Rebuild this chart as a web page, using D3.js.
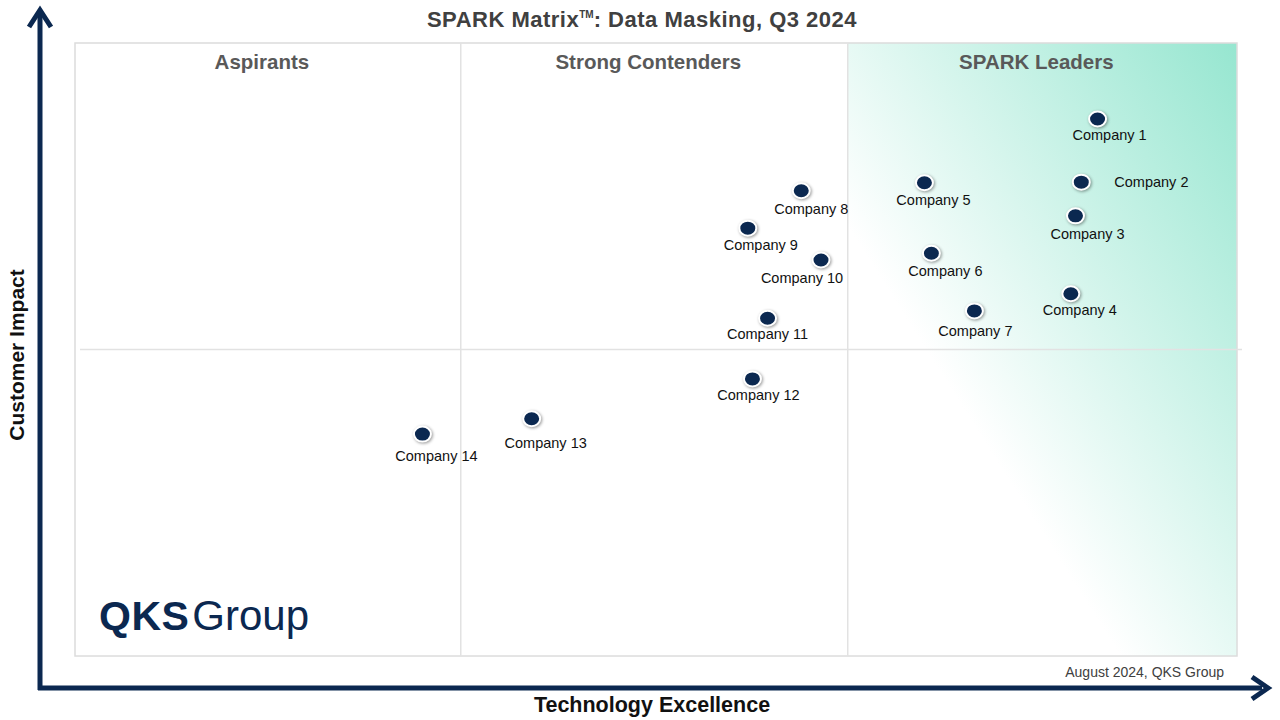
<!DOCTYPE html>
<html><head><meta charset="utf-8">
<script src="https://cdn.jsdelivr.net/npm/d3@7"></script>
<style>body{margin:0;background:#fff}svg{font-family:Arial,"Liberation Sans",sans-serif}</style>
</head><body><svg id="c" width="1280" height="720"></svg>
<script>
// vendor positions (0-100 both axes)
const companies = ["Company 1","Company 2","Company 3","Company 4","Company 5","Company 6","Company 7",
  "Company 8","Company 9","Company 10","Company 11","Company 12","Company 13","Company 14"];
const techExcellence = [88.0,86.6,86.1,85.7,73.1,73.7,77.4,62.5,57.9,64.2,59.6,58.3,39.3,29.9];
const customerImpact = [87.6,77.3,71.8,59.1,77.2,65.7,56.3,75.9,69.8,64.6,55.1,45.2,38.7,36.2];
const labelDx = [12,33,12,9,9,14,1,10,13,-19,0,6,14,14];
const labelDy = [21,5,23,21,22,23,25,23,22,23,21,21,29,27];
const quadrantNames = ["Aspirants","Strong Contenders","SPARK Leaders"];
const xSplits = [33.2, 66.5];
const ySplit = 50;

const svg = d3.select("#c");
const x = d3.scaleLinear().domain([0,100]).range([75,1237]);
const y = d3.scaleLinear().domain([0,100]).range([656,43]);
const navy = "#0b2850";

const defs = svg.append("defs");
const g = defs.append("linearGradient").attr("id","lead").attr("x1","1").attr("y1","0").attr("x2","0").attr("y2","1");
g.append("stop").attr("offset","0").attr("stop-color","#96e6d0");
g.append("stop").attr("offset","0.65").attr("stop-color","#ffffff");

// leaders shading
svg.append("rect").attr("x",x(xSplits[1])).attr("y",y(100))
  .attr("width",x(100)-x(xSplits[1])).attr("height",y(0)-y(100)).attr("fill","url(#lead)");

// frame + grid
svg.append("rect").attr("x",x(0)).attr("y",y(100)).attr("width",x(100)-x(0)).attr("height",y(0)-y(100))
  .attr("fill","none").attr("stroke","#dcdcdc").attr("stroke-width",1.5);
xSplits.forEach(s => svg.append("line").attr("x1",x(s)).attr("x2",x(s)).attr("y1",y(100)).attr("y2",y(0))
  .attr("stroke","#e2e2e2").attr("stroke-width",1.5));
svg.append("line").attr("x1",80).attr("x2",1242).attr("y1",y(ySplit)).attr("y2",y(ySplit))
  .attr("stroke","#e2e2e2").attr("stroke-width",1.5);

// quadrant titles
const bounds = [0, ...xSplits, 100];
quadrantNames.forEach((n,i) => svg.append("text").attr("x",(x(bounds[i])+x(bounds[i+1]))/2 - 6).attr("y",69)
  .attr("text-anchor","middle").attr("font-size",20.5).attr("font-weight","bold").attr("fill","#595959").text(n));

// title
const t = svg.append("text").attr("x",642).attr("y",27).attr("text-anchor","middle")
  .attr("font-size",22).attr("font-weight","bold").attr("fill","#404040").attr("letter-spacing",0.5);
t.append("tspan").text("SPARK Matrix");
t.append("tspan").attr("font-size",10).attr("dy",-9).attr("letter-spacing",0).text("TM");
t.append("tspan").attr("dy",9).text(": Data Masking, Q3 2024");

// axes arrows
svg.append("line").attr("x1",40).attr("x2",40).attr("y1",690).attr("y2",14).attr("stroke",navy).attr("stroke-width",5);
svg.append("path").attr("d","M29,27 L40,10 L51,27").attr("fill","none").attr("stroke",navy).attr("stroke-width",5);
svg.append("line").attr("x1",38).attr("x2",1262).attr("y1",688).attr("y2",688).attr("stroke",navy).attr("stroke-width",5);
svg.append("path").attr("d","M1252,677 L1268,688 L1252,699").attr("fill","none").attr("stroke",navy).attr("stroke-width",5);

svg.append("text").attr("x",652).attr("y",712).attr("text-anchor","middle").attr("font-size",21.5)
  .attr("font-weight","bold").attr("fill","#111").text("Technology Excellence");
svg.append("text").attr("transform","translate(24,355) rotate(-90)").attr("text-anchor","middle")
  .attr("font-size",21).attr("font-weight","bold").attr("fill","#111").text("Customer Impact");

svg.append("text").attr("x",1224).attr("y",677).attr("text-anchor","end").attr("font-size",14)
  .attr("fill","#404040").text("August 2024, QKS Group");

// logo
const logo = svg.append("text").attr("x",99).attr("y",630).attr("fill",navy);
logo.append("tspan").attr("font-size",41).attr("font-weight","900").attr("letter-spacing",0.5).text("QKS");
logo.append("tspan").attr("font-size",42).attr("dx",3).text("Group");

// points
const data = companies.map((c,i) => ({c, tx: techExcellence[i], ci: customerImpact[i], dx: labelDx[i], dy: labelDy[i]}));
const pts = svg.append("g").selectAll("g").data(data).join("g")
  .attr("transform", d => `translate(${x(d.tx)},${y(d.ci)})`);
pts.append("ellipse").attr("rx",8.5).attr("ry",7.5).attr("fill",navy).attr("stroke","#fff").attr("stroke-width",2)
  .style("filter","drop-shadow(1px 1px 1.5px rgba(0,0,0,0.4))");
pts.append("text").attr("x", d => d.dx).attr("y", d => d.dy)
  .attr("text-anchor", d => d.c === "Company 2" ? "start" : "middle")
  .attr("font-size",14.5).attr("fill","#111").text(d => d.c);
</script></body></html>
